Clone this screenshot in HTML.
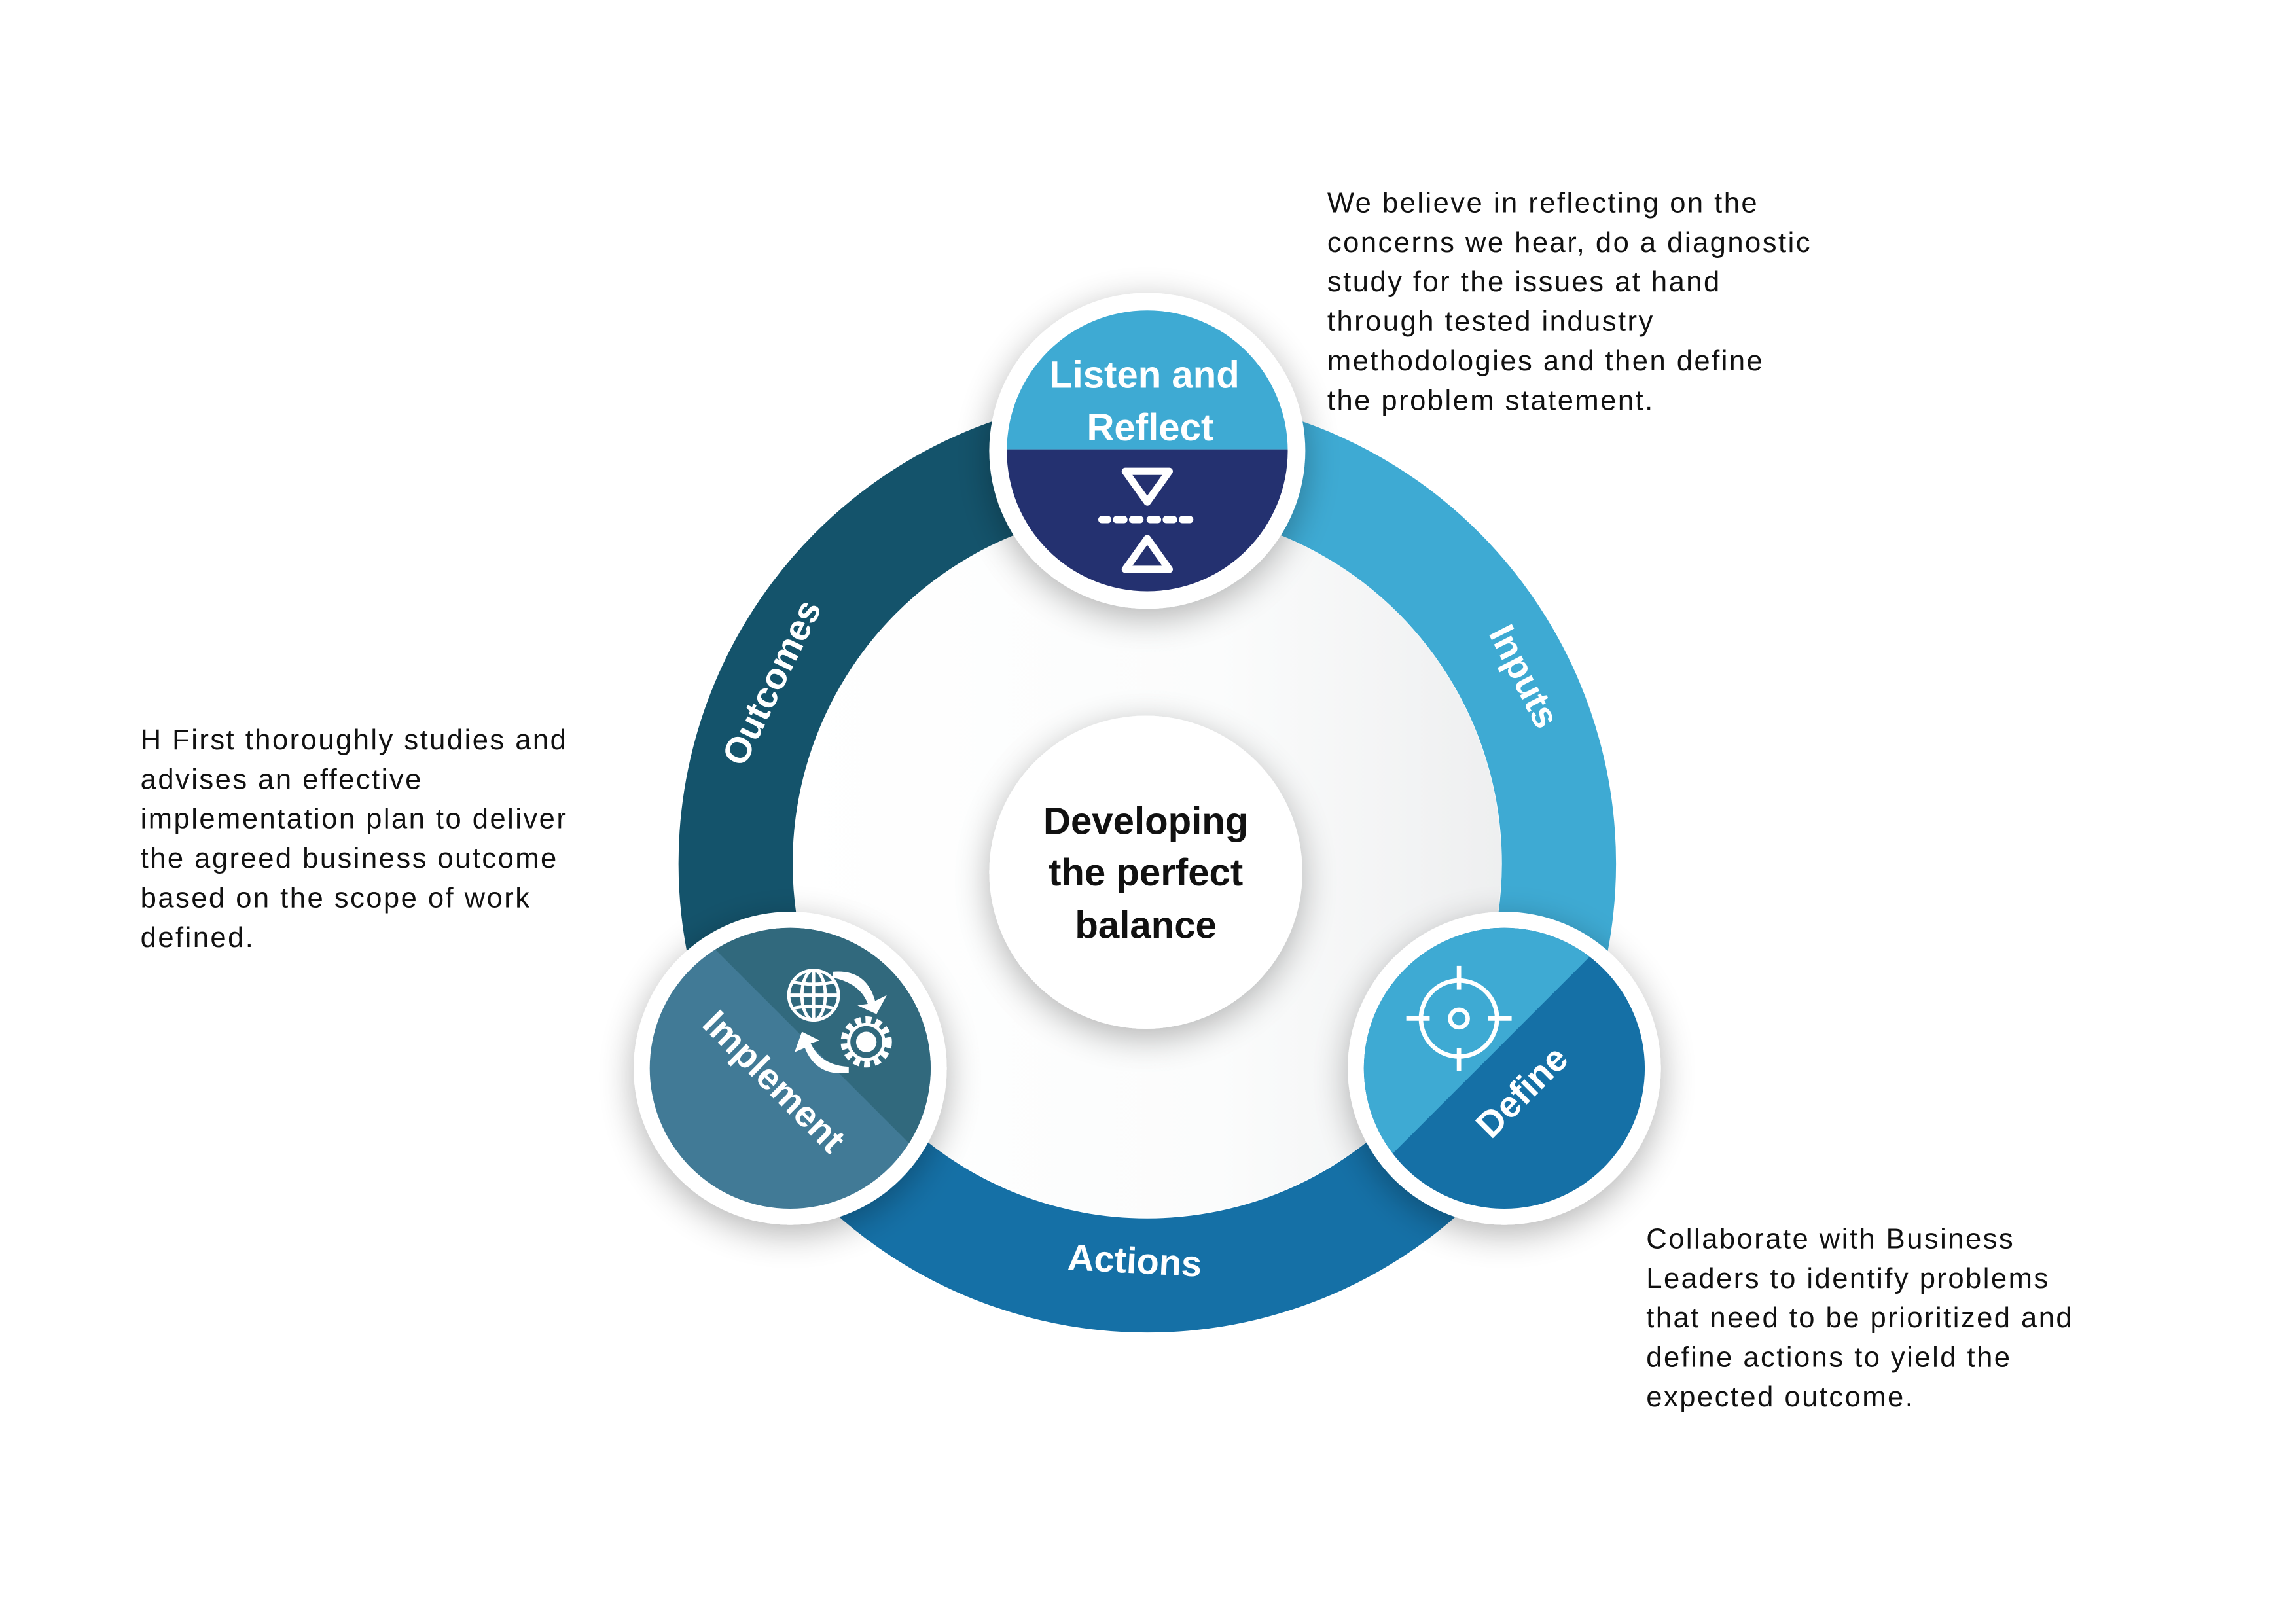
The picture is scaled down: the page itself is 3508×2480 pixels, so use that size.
<!DOCTYPE html>
<html><head><meta charset="utf-8"><style>
html,body{margin:0;padding:0;background:#fff;}
svg{display:block;}
</style></head><body>
<svg width="3508" height="2480" viewBox="0 0 1569 1109" xmlns="http://www.w3.org/2000/svg" font-family="'Liberation Sans', sans-serif">
<defs>
<linearGradient id="inner" x1="0" y1="0" x2="1" y2="0">
<stop offset="0" stop-color="#ffffff"/><stop offset="0.6" stop-color="#fbfcfc"/><stop offset="1" stop-color="#eeeff0"/>
</linearGradient>
<filter id="sh" x="-50%" y="-50%" width="200%" height="200%">
<feGaussianBlur in="SourceAlpha" stdDeviation="12"/><feOffset dx="0" dy="6"/>
<feComponentTransfer><feFuncA type="linear" slope="0.3"/></feComponentTransfer>
<feMerge><feMergeNode/><feMergeNode in="SourceGraphic"/></feMerge>
</filter>
<clipPath id="ctop"><circle cx="784" cy="308" r="96"/></clipPath>
<clipPath id="cimp"><circle cx="540" cy="730" r="96"/></clipPath>
<clipPath id="cdef"><circle cx="1028" cy="730" r="96"/></clipPath>
</defs>

<g fill="none" stroke-width="78">
<path d="M784 309 A281 281 0 0 0 540.6 731" stroke="#14536b"/>
<path d="M784 309 A281 281 0 0 1 1027.4 731" stroke="#3eaad3"/>
<path d="M540.6 731 A281 281 0 0 0 1027.4 731" stroke="#1570a6"/>
</g>
<circle cx="784" cy="590" r="242" fill="url(#inner)"/>

<circle cx="783" cy="596" r="107" fill="#fff" filter="url(#sh)"/>
<g font-weight="bold" font-size="26" text-anchor="middle" fill="#111">
<text x="783" y="570">Developing</text>
<text x="783" y="605">the perfect</text>
<text x="783" y="641">balance</text>
</g>

<circle cx="784" cy="308" r="108" fill="#fff" filter="url(#sh)"/>
<g clip-path="url(#ctop)">
<rect x="680" y="200" width="210" height="107" fill="#3eaad3"/>
<rect x="680" y="307" width="210" height="110" fill="#243170"/>
</g>
<g font-weight="bold" font-size="26" fill="#fff" text-anchor="middle">
<text x="782" y="265">Listen and</text>
<text x="786" y="301">Reflect</text>
</g>
<g fill="none" stroke="#fff" stroke-width="5" stroke-linejoin="round">
<path d="M769 322 L799 322 L784 343 Z"/>
<path d="M769 389 L799 389 L784 368 Z"/>
</g>
<g stroke="#fff" stroke-width="5" stroke-linecap="round">
<path d="M753 355 L757 355 M763 355 L768 355 M774 355 L779 355 M786 355 L791 355 M797 355 L802 355 M808 355 L813 355"/>
</g>

<circle cx="540" cy="730" r="107" fill="#fff" filter="url(#sh)"/>
<g clip-path="url(#cimp)">
<rect x="440" y="630" width="200" height="200" fill="#417a96"/>
<path d="M440 600 L680 600 L680 840 Z" fill="#31697d"/>
</g>
<text x="0" y="0" font-weight="bold" font-size="25" fill="#fff" text-anchor="middle" transform="translate(523,745) rotate(45)">Implement</text>
<g fill="none" stroke="#fff" stroke-width="2.2">
<circle cx="556" cy="680" r="17"/>
<ellipse cx="556" cy="680" rx="8" ry="17"/>
<line x1="556" y1="663" x2="556" y2="697"/>
<line x1="539" y1="680" x2="573" y2="680"/>
<path d="M542 671 Q556 674 570 671 M542 689 Q556 686 570 689"/>
<circle cx="592" cy="712" r="15" stroke-dasharray="4 3" stroke-width="5"/>
<circle cx="592" cy="712" r="12"/>
</g>
<circle cx="592" cy="712" r="7" fill="#fff"/>
<path d="M569 664 Q592 662 598 684 L606 680 L599 693 L586 687 L593 686 Q588 672 569 668 Z" fill="#fff"/>
<path d="M580 733 Q558 736 550 716 L543 719 L548 705 L560 711 L554 713 Q561 728 580 729 Z" fill="#fff"/>

<circle cx="1028" cy="730" r="107" fill="#fff" filter="url(#sh)"/>
<g clip-path="url(#cdef)">
<rect x="928" y="630" width="200" height="200" fill="#1570a6"/>
<path d="M928 630 L1110 630 L928 812 Z" fill="#3eaad3"/>
</g>
<text x="0" y="0" font-weight="bold" font-size="25" fill="#fff" text-anchor="middle" transform="translate(1046,752) rotate(-45)">Define</text>
<g fill="none" stroke="#fff" stroke-width="3">
<circle cx="997" cy="696" r="26"/>
<circle cx="997" cy="696" r="6"/>
<path d="M997 660 V676 M997 716 V732 M961 696 H977 M1017 696 H1033"/>
</g>

<g font-weight="bold" font-size="25" fill="#fff" text-anchor="middle">
<text transform="translate(535,470) rotate(-64)">Outcomes</text>
<text transform="translate(1034,466) rotate(63)">Inputs</text>
<text transform="translate(775,870) rotate(3)">Actions</text>
</g>

<g font-size="19.5" fill="#111" letter-spacing="1.1">
<text x="907" y="145">We believe in reflecting on the</text>
<text x="907" y="172">concerns we hear, do a diagnostic</text>
<text x="907" y="199">study for the issues at hand</text>
<text x="907" y="226">through tested industry</text>
<text x="907" y="253">methodologies and then define</text>
<text x="907" y="280">the problem statement.</text>

<text x="96" y="512">H First thoroughly studies and</text>
<text x="96" y="539">advises an effective</text>
<text x="96" y="566">implementation plan to deliver</text>
<text x="96" y="593">the agreed business outcome</text>
<text x="96" y="620">based on the scope of work</text>
<text x="96" y="647">defined.</text>

<text x="1125" y="853">Collaborate with Business</text>
<text x="1125" y="880">Leaders to identify problems</text>
<text x="1125" y="907">that need to be prioritized and</text>
<text x="1125" y="934">define actions to yield the</text>
<text x="1125" y="961">expected outcome.</text>
</g>
</svg>
</body></html>
